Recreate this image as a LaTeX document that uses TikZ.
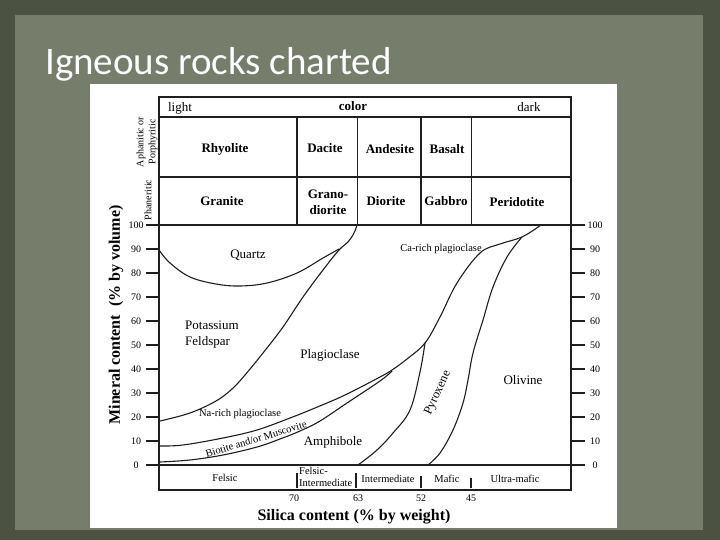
\documentclass[tikz,border=0pt]{standalone}
\usepackage{fontspec}
\setmainfont{Liberation Serif}
\newfontfamily\slidefont{Carlito}
\usepackage{tikz}
\definecolor{slateframe}{HTML}{4B5242}
\definecolor{slatepanel}{HTML}{767D6B}
\definecolor{ink}{HTML}{1E1E1E}

\begin{document}
\begin{tikzpicture}[x=1pt,y=-1pt,
  rock/.style={font=\fontsize{13}{16}\selectfont\bfseries,inner sep=0pt,align=center},
  mineral/.style={font=\fontsize{13}{16}\selectfont,inner sep=0pt,align=left},
  note/.style={font=\fontsize{10.5}{12}\selectfont,inner sep=0pt,align=left},
  num/.style={font=\fontsize{10}{12}\selectfont,inner sep=0pt},
  axislabel/.style={font=\fontsize{16}{18}\selectfont\bfseries,inner sep=0pt},
  rule/.style={ink,line width=1.3pt},
  bound/.style={ink,line width=1.1pt,line join=round}]
  % slide
  \fill[slateframe] (0,0) rectangle (720,540);
  \fill[slatepanel] (15,15) rectangle (703,530);
  \node[anchor=base west,inner sep=0pt,text=white,font=\slidefont\fontsize{39}{44}\selectfont] (title) at (45,75) {Igneous rocks charted};
  \fill[white] (90,84) rectangle (617,528);
  % table and frame
  \draw[rule] (159,97) rectangle (571,490);
  \draw[rule] (159,117) -- (571,117) (159,177) -- (571,177);
  \draw[rule] (146,225) -- (585,225) (146,465) -- (585,465);
  \foreach \x in {297,357.5,421,471.5} \draw[rule] (\x,117) -- (\x,225);
  \foreach \x/\a in {297/473,356/473,421/476,471/478} \draw[rule] (\x,\a) -- (\x,488);
  % scales
  \foreach \p in {0,10,...,100} {
    \draw[rule] (146,{465-2.4*\p}) -- (159,{465-2.4*\p});
    \draw[rule] (571,{465-2.4*\p}) -- (585,{465-2.4*\p});
    \node[num] (l\p) at (136,{465-2.4*\p}) {\p};
    \node[num] (r\p) at (595,{465-2.4*\p}) {\p};
  }
  % header rows
  \node[mineral] (light) at (180,108) {light};
  \node[rock] (color) at (353,106) {color};
  \node[mineral] (dark) at (529,107) {dark};
  \node[rock] (rhyolite) at (225,149) {Rhyolite};
  \node[rock] (dacite) at (325,148) {Dacite};
  \node[rock] (andesite) at (390,149) {Andesite};
  \node[rock] (basalt) at (447,149) {Basalt};
  \node[rock] (granite) at (222,201) {Granite};
  \node[rock] (granodiorite) at (328,202) {Grano-\\diorite};
  \node[rock] (diorite) at (386,201) {Diorite};
  \node[rock] (gabbro) at (446,201) {Gabbro};
  \node[rock] (peridotite) at (517,202) {Peridotite};
  \node[note,rotate=90,align=center,font=\fontsize{10}{12}\selectfont] (aphanitic) at (147,142) {Aphanitic or\\Porphyritic};
  \node[note,rotate=90,font=\fontsize{10}{12}\selectfont] (phaneritic) at (148,200) {Phaneritic};
  % axis titles
  \node[axislabel,rotate=90] (ylabel) at (116,315) {Mineral content\ \ (\% by volume)};
  \node[axislabel] (xlabel) at (354,517) {Silica content (\% by weight)};
  % silica classes
  \node[note] (felsic) at (225,478) {Felsic};
  \node[note,anchor=west] (felsicint) at (299,477) {Felsic-\\Intermediate};
  \node[note] (intermediate) at (388,479) {Intermediate};
  \node[note] (mafic) at (447,479) {Mafic};
  \node[note] (ultramafic) at (515,479) {Ultra-mafic};
  \foreach \s/\x in {70/294,63/358,52/421,45/471} \node[num] (si\s) at (\x,498) {\s};
  % mineral boundaries
  \draw[bound] plot[smooth,tension=0.6] coordinates {(159,250) (170,263) (190,277) (216,284) (240,286) (267,283) (297,273) (323,258) (339,249)};
  \draw[bound] plot[smooth,tension=0.6] coordinates {(357,225) (354,233) (348,242) (339,250) (323,270) (303,297) (283,327) (263,353) (245,375) (232,389) (216,401) (190,413) (160,421)};
  \draw[bound] plot[smooth,tension=0.6] coordinates {(160,446) (183,445) (223,438) (257,430) (290,418) (315,408) (345,395) (380,377) (392,370) (407,359) (425,343) (440,317) (457,283) (480,253) (500,244) (522,237) (541,225)};
  \draw[bound] plot[smooth,tension=0.6] coordinates {(160,462) (190,460) (223,455) (257,447) (280,439) (300,431) (320,421) (347,403) (380,381) (392,371)};
  \draw[bound] plot[smooth,tension=0.6] coordinates {(522,237) (507,257) (493,287) (483,320) (473,353) (468,380) (463,403) (453,430) (440,453) (428,465)};
  \draw[bound] plot[smooth,tension=0.6] coordinates {(425,343) (420,372) (410,410) (393,433) (377,450) (358,465)};
  % mineral names
  \node[mineral] (quartz) at (248,255) {Quartz};
  \node[mineral,anchor=west] (kspar) at (185,335) {Potassium\\Feldspar};
  \node[mineral] (plag) at (330,355) {Plagioclase};
  \node[note] (carich) at (441,249) {Ca-rich plagioclase};
  \node[note] (narich) at (240,414) {Na-rich plagioclase};
  \node[note,rotate=17] (mica) at (256,439) {Biotite and/or Muscovite};
  \node[mineral] (amph) at (333,442) {Amphibole};
  \node[mineral,rotate=65,font=\fontsize{12.5}{14}\selectfont] (pyx) at (438,393) {Pyroxene};
  \node[mineral] (oliv) at (523,380) {Olivine};
\end{tikzpicture}
\end{document}
